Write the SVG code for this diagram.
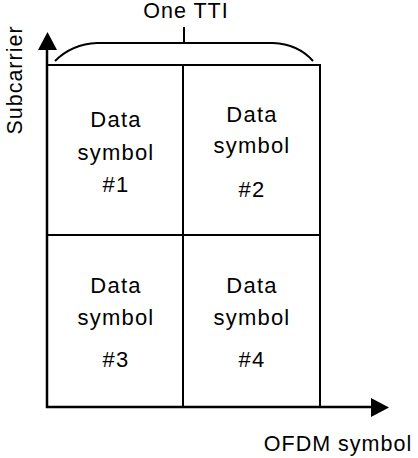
<svg xmlns="http://www.w3.org/2000/svg" width="418" height="458" viewBox="0 0 418 458">
<defs>
<style>
.t{font-family:"Liberation Sans",Arial,sans-serif;font-size:22px;fill:#000;text-anchor:middle;letter-spacing:1.2px}
.lb{font-family:"Liberation Sans",Arial,sans-serif;font-size:21.5px;fill:#000;text-anchor:middle;letter-spacing:1px}
.ln{stroke:#000;stroke-width:2;fill:none}
.cell{fill:#fff;stroke:#000;stroke-width:2}
</style>
</defs>
<rect width="418" height="458" fill="#fff"/>
<g id="cell1"><rect class="cell" x="47" y="65" width="136" height="170"/>
<text class="t" x="116" y="127">Data</text><text class="t" x="116" y="160">symbol</text><text class="t" x="116" y="192">#1</text></g>
<g id="cell2"><rect class="cell" x="183" y="65" width="137" height="170"/>
<text class="t" x="252" y="122">Data</text><text class="t" x="252" y="153">symbol</text><text class="t" x="252" y="197">#2</text></g>
<g id="cell3"><rect class="cell" x="47" y="235" width="136" height="172"/>
<text class="t" x="116" y="293">Data</text><text class="t" x="116" y="325">symbol</text><text class="t" x="116" y="367">#3</text></g>
<g id="cell4"><rect class="cell" x="183" y="235" width="137" height="172"/>
<text class="t" x="252" y="293">Data</text><text class="t" x="252" y="325">symbol</text><text class="t" x="252" y="367">#4</text></g>
<g id="connectors">
<line x1="47" y1="408" x2="47" y2="48" stroke="#000" stroke-width="2.5"/>
<path d="M38,50 L47.5,32 L57,50 Z" fill="#000"/>
<line x1="46" y1="407" x2="372" y2="407" stroke="#000" stroke-width="2.5"/>
<path d="M371,398 L389,407.5 L371,417 Z" fill="#000"/>
<path class="ln" d="M55,61 Q72,44 97,43 L273,43 Q298,44 313,61"/>
<line class="ln" x1="184" y1="27" x2="184" y2="43"/>
</g>
<g id="labels">
<text class="lb" x="186" y="18">One TTI</text>
<text class="lb" x="338" y="451">OFDM symbol</text>
<text class="lb" transform="translate(22,80) rotate(-90)">Subcarrier</text>
</g>
</svg>
